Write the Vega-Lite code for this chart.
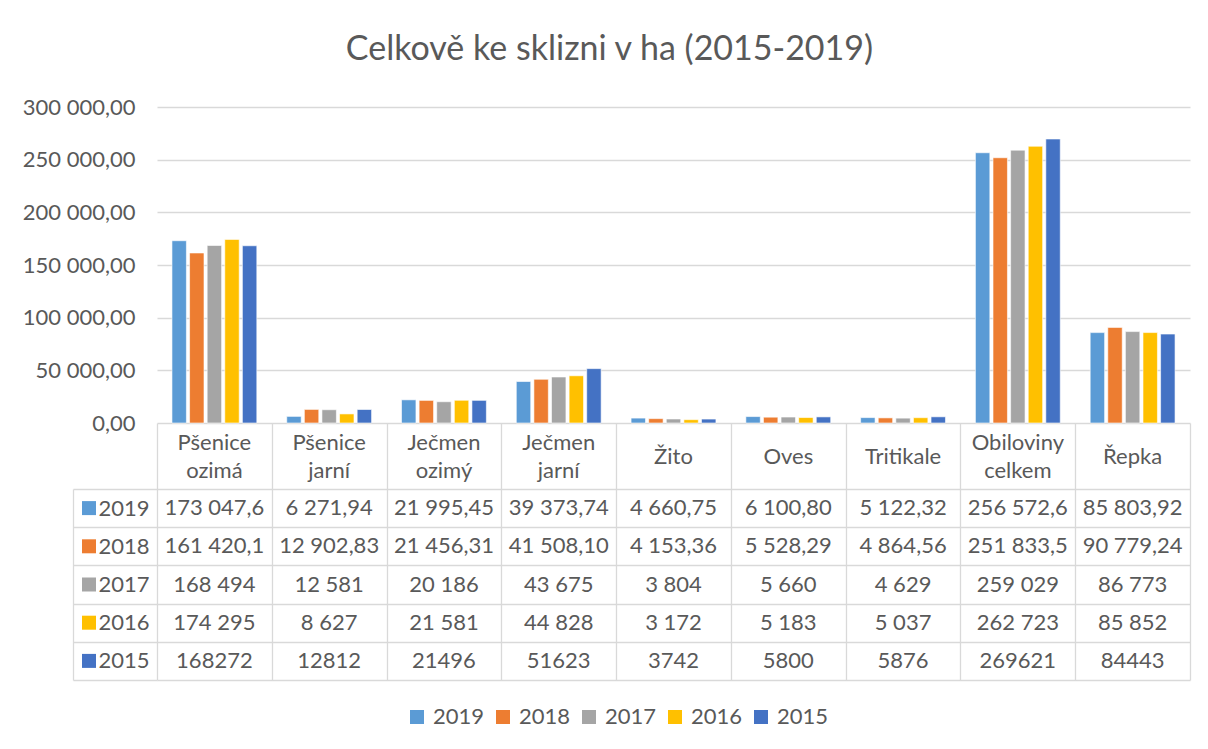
{
  "$schema": "https://vega.github.io/schema/vega-lite/v6.json",
  "width": 1033,
  "height": 573,
  "autosize": {"type": "none"},
  "padding": {"left": 157, "top": 107, "right": 18, "bottom": 69},
  "background": "white",
  "title": {"text": "Celkově ke sklizni v ha (2015-2019)", "font": "Lato", "fontSize": 34, "fontWeight": "normal", "color": "#595959", "anchor": "middle", "frame": "bounds", "offset": 29, "dx": 3},
  "data": {"values": [
    {"cat": "Pšenice ozimá", "year": "2019", "val": 173047.6, "txt": "173 047,6"},
    {"cat": "Pšenice jarní", "year": "2019", "val": 6271.94, "txt": "6 271,94"},
    {"cat": "Ječmen ozimý", "year": "2019", "val": 21995.45, "txt": "21 995,45"},
    {"cat": "Ječmen jarní", "year": "2019", "val": 39373.74, "txt": "39 373,74"},
    {"cat": "Žito", "year": "2019", "val": 4660.75, "txt": "4 660,75"},
    {"cat": "Oves", "year": "2019", "val": 6100.80, "txt": "6 100,80"},
    {"cat": "Tritikale", "year": "2019", "val": 5122.32, "txt": "5 122,32"},
    {"cat": "Obiloviny celkem", "year": "2019", "val": 256572.6, "txt": "256 572,6"},
    {"cat": "Řepka", "year": "2019", "val": 85803.92, "txt": "85 803,92"},
    {"cat": "Pšenice ozimá", "year": "2018", "val": 161420.1, "txt": "161 420,1"},
    {"cat": "Pšenice jarní", "year": "2018", "val": 12902.83, "txt": "12 902,83"},
    {"cat": "Ječmen ozimý", "year": "2018", "val": 21456.31, "txt": "21 456,31"},
    {"cat": "Ječmen jarní", "year": "2018", "val": 41508.10, "txt": "41 508,10"},
    {"cat": "Žito", "year": "2018", "val": 4153.36, "txt": "4 153,36"},
    {"cat": "Oves", "year": "2018", "val": 5528.29, "txt": "5 528,29"},
    {"cat": "Tritikale", "year": "2018", "val": 4864.56, "txt": "4 864,56"},
    {"cat": "Obiloviny celkem", "year": "2018", "val": 251833.5, "txt": "251 833,5"},
    {"cat": "Řepka", "year": "2018", "val": 90779.24, "txt": "90 779,24"},
    {"cat": "Pšenice ozimá", "year": "2017", "val": 168494, "txt": "168 494"},
    {"cat": "Pšenice jarní", "year": "2017", "val": 12581, "txt": "12 581"},
    {"cat": "Ječmen ozimý", "year": "2017", "val": 20186, "txt": "20 186"},
    {"cat": "Ječmen jarní", "year": "2017", "val": 43675, "txt": "43 675"},
    {"cat": "Žito", "year": "2017", "val": 3804, "txt": "3 804"},
    {"cat": "Oves", "year": "2017", "val": 5660, "txt": "5 660"},
    {"cat": "Tritikale", "year": "2017", "val": 4629, "txt": "4 629"},
    {"cat": "Obiloviny celkem", "year": "2017", "val": 259029, "txt": "259 029"},
    {"cat": "Řepka", "year": "2017", "val": 86773, "txt": "86 773"},
    {"cat": "Pšenice ozimá", "year": "2016", "val": 174295, "txt": "174 295"},
    {"cat": "Pšenice jarní", "year": "2016", "val": 8627, "txt": "8 627"},
    {"cat": "Ječmen ozimý", "year": "2016", "val": 21581, "txt": "21 581"},
    {"cat": "Ječmen jarní", "year": "2016", "val": 44828, "txt": "44 828"},
    {"cat": "Žito", "year": "2016", "val": 3172, "txt": "3 172"},
    {"cat": "Oves", "year": "2016", "val": 5183, "txt": "5 183"},
    {"cat": "Tritikale", "year": "2016", "val": 5037, "txt": "5 037"},
    {"cat": "Obiloviny celkem", "year": "2016", "val": 262723, "txt": "262 723"},
    {"cat": "Řepka", "year": "2016", "val": 85852, "txt": "85 852"},
    {"cat": "Pšenice ozimá", "year": "2015", "val": 168272, "txt": "168272"},
    {"cat": "Pšenice jarní", "year": "2015", "val": 12812, "txt": "12812"},
    {"cat": "Ječmen ozimý", "year": "2015", "val": 21496, "txt": "21496"},
    {"cat": "Ječmen jarní", "year": "2015", "val": 51623, "txt": "51623"},
    {"cat": "Žito", "year": "2015", "val": 3742, "txt": "3742"},
    {"cat": "Oves", "year": "2015", "val": 5800, "txt": "5800"},
    {"cat": "Tritikale", "year": "2015", "val": 5876, "txt": "5876"},
    {"cat": "Obiloviny celkem", "year": "2015", "val": 269621, "txt": "269621"},
    {"cat": "Řepka", "year": "2015", "val": 84443, "txt": "84443"}
  ]},
  "layer": [
    {
      "mark": {"type": "bar", "stroke": "white", "strokeWidth": 0.6},
      "encoding": {
        "x": {"field": "cat", "type": "nominal", "scale": {"domain": ["Pšenice ozimá", "Pšenice jarní", "Ječmen ozimý", "Ječmen jarní", "Žito", "Oves", "Tritikale", "Obiloviny celkem", "Řepka"], "paddingInner": 0, "paddingOuter": 0}, "axis": null},
        "xOffset": {"field": "year", "type": "nominal", "scale": {"domain": ["2019", "2018", "2017", "2016", "2015"], "paddingInner": 0.18, "paddingOuter": 0.85}},
        "y": {"field": "val", "type": "quantitative", "scale": {"domain": [0, 300000], "range": [316, 0], "nice": false, "zero": true},
          "axis": {"values": [0, 50000, 100000, 150000, 200000, 250000, 300000], "format": ",.2f", "grid": true, "domain": false, "ticks": false, "labelPadding": 22, "title": null}},
        "color": {"field": "year", "type": "nominal", "scale": {"domain": ["2019", "2018", "2017", "2016", "2015"], "range": ["#5B9BD5", "#ED7D31", "#A5A5A5", "#FFC000", "#4472C4"]},
          "legend": {"title": null, "orient": "none", "direction": "horizontal", "legendX": 249, "legendY": 599, "symbolType": "square", "symbolSize": 196, "symbolStrokeWidth": 0, "labelOffset": 5, "columnPadding": 7, "labelFontSize": 22, "labelFont": "Lato", "labelColor": "#595959"}}
      }
    },
    {
      "data": {"values": [
        {"cat": "Pšenice ozimá", "line": "a", "t": "Pšenice"},
        {"cat": "Pšenice ozimá", "line": "b", "t": "ozimá"},
        {"cat": "Pšenice jarní", "line": "a", "t": "Pšenice"},
        {"cat": "Pšenice jarní", "line": "b", "t": "jarní"},
        {"cat": "Ječmen ozimý", "line": "a", "t": "Ječmen"},
        {"cat": "Ječmen ozimý", "line": "b", "t": "ozimý"},
        {"cat": "Ječmen jarní", "line": "a", "t": "Ječmen"},
        {"cat": "Ječmen jarní", "line": "b", "t": "jarní"},
        {"cat": "Žito", "line": "m", "t": "Žito"},
        {"cat": "Oves", "line": "m", "t": "Oves"},
        {"cat": "Tritikale", "line": "m", "t": "Tritikale"},
        {"cat": "Obiloviny celkem", "line": "a", "t": "Obiloviny"},
        {"cat": "Obiloviny celkem", "line": "b", "t": "celkem"},
        {"cat": "Řepka", "line": "m", "t": "Řepka"}
      ]},
      "mark": {"type": "text", "baseline": "middle"},
      "encoding": {
        "x": {"field": "cat", "type": "nominal", "scale": {"domain": ["Pšenice ozimá", "Pšenice jarní", "Ječmen ozimý", "Ječmen jarní", "Žito", "Oves", "Tritikale", "Obiloviny celkem", "Řepka"], "paddingInner": 0, "paddingOuter": 0}, "axis": null},
        "y": {"field": "line", "type": "nominal", "scale": {"type": "point", "domain": ["a", "m", "b"], "range": [336, 364], "padding": 0}, "axis": null},
        "text": {"field": "t"}
      }
    },
    {
      "mark": {"type": "text", "baseline": "middle"},
      "encoding": {
        "x": {"field": "cat", "type": "nominal", "scale": {"domain": ["Pšenice ozimá", "Pšenice jarní", "Ječmen ozimý", "Ječmen jarní", "Žito", "Oves", "Tritikale", "Obiloviny celkem", "Řepka"], "paddingInner": 0, "paddingOuter": 0},
          "axis": {"orient": "bottom", "offset": -257, "tickBand": "extent", "tickSize": 257, "ticks": true, "labels": false, "domain": false, "grid": false, "title": null}},
        "y": {"field": "year", "type": "nominal", "scale": {"type": "band", "domain": ["2019", "2018", "2017", "2016", "2015"], "range": [382, 573], "paddingInner": 0, "paddingOuter": 0},
          "axis": {"orient": "left", "grid": true, "tickBand": "extent", "tickSize": 84, "ticks": true, "domain": false, "labelPadding": -76, "title": null}},
        "text": {"field": "txt"}
      }
    },
    {
      "transform": [{"filter": "datum.cat == 'Pšenice ozimá'"}],
      "mark": {"type": "square", "size": 196, "filled": true, "opacity": 1},
      "encoding": {
        "x": {"datum": 0, "type": "quantitative", "scale": {"domain": [0, 1], "range": [-68, 0]}, "axis": null},
        "y": {"field": "year", "type": "nominal", "scale": {"type": "band", "domain": ["2019", "2018", "2017", "2016", "2015"], "range": [382, 573], "paddingInner": 0, "paddingOuter": 0},
          "axis": {"orient": "left", "offset": 84, "domain": true, "labels": false, "ticks": false, "grid": false, "title": null}},
        "color": {"field": "year", "type": "nominal"}
      }
    }
  ],
  "resolve": {"scale": {"x": "independent", "y": "independent"}, "axis": {"x": "independent", "y": "independent"}},
  "config": {
    "locale": {"number": {"decimal": ",", "thousands": " ", "grouping": [3], "currency": ["", ""]}},
    "view": {"stroke": null},
    "axis": {"labelFont": "Lato", "labelFontSize": 22, "labelColor": "#595959", "gridColor": "#d9d9d9", "gridWidth": 1.3, "tickColor": "#d9d9d9", "tickWidth": 1.3, "domainColor": "#d9d9d9", "domainWidth": 1.3},
    "text": {"font": "Lato", "fontSize": 22, "color": "#595959"}
  }
}
